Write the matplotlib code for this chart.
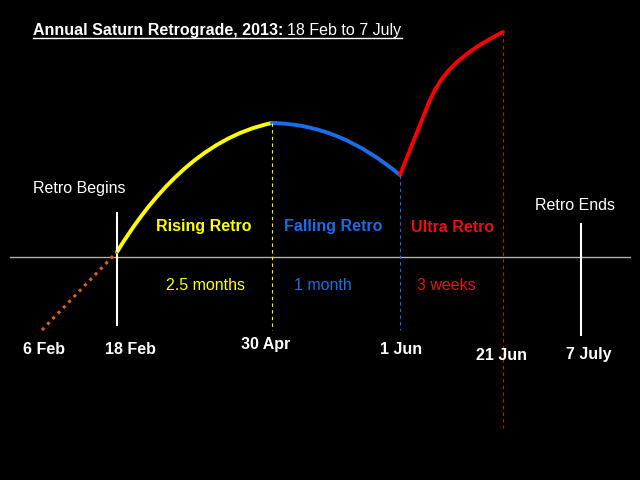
import matplotlib
matplotlib.use("Agg")
import matplotlib.pyplot as plt
from matplotlib.path import Path
from matplotlib.patches import PathPatch

plt.rcParams['font.family'] = ['Liberation Sans', 'DejaVu Sans']

# curve segments (picture units, y grows down),
# given as start / bezier handles / end
rise_x = [117, 150, 200, 272]
rise_y = [252, 198, 138, 123]
fall_x = [272, 320, 360, 400]
fall_y = [123, 124, 142, 175]
ultra_x = [400, 428, 440, 458, 503]
ultra_y = [175, 105, 75, 55, 32]
lead_x = [42, 117]
lead_y = [330, 252]

dates = ["6 Feb", "18 Feb", "30 Apr", "1 Jun", "21 Jun", "7 July"]
date_x = [44, 130, 266, 401, 501, 589]
date_y = [350, 350, 345, 350, 355, 355]

phases = ["Rising Retro", "Falling Retro", "Ultra Retro"]
phase_x = [204, 333, 453]
durations = ["2.5 months", "1 month", "3 weeks"]
dur_x = [206, 323, 446]

yellow = "#ffff00"
blue = "#1a6ce8"
red = "#ff0000"
red_txt = "#e81010"
fs = 11.5

fig = plt.figure(figsize=(6.4, 4.8), dpi=100, facecolor="black")
ax = fig.add_axes([0, 0, 1, 1])
ax.set_facecolor("black")
ax.set_xlim(0, 640)
ax.set_ylim(480, 0)
ax.axis("off")


def curve(xs, ys, color, codes):
    p = Path(list(zip(xs, ys)), codes)
    ax.add_patch(PathPatch(p, fill=False, edgecolor=color, lw=2.8,
                           capstyle="round", joinstyle="round"))


# baseline
ax.plot([10, 630], [257, 257], color="#b0b0b0", lw=1)

# start / end markers
ax.plot([117, 117], [213, 325], color="white", lw=1.5)
ax.plot([581, 581], [224, 335], color="white", lw=1.5)

# phase separators
ax.plot([272, 272], [123, 330], color=yellow, lw=0.8, ls=(0, (3, 3)))
ax.plot([400, 400], [175, 330], color=blue, lw=0.8, ls=(0, (3, 3)))
ax.plot([503, 503], [32, 428], color="#d01010", lw=0.8, ls=(0, (3, 3)))

# motion curve
ax.plot(lead_x, lead_y, color="#e06020", lw=2.2, ls=(0, (1, 1.5)))
c4 = [Path.MOVETO, Path.CURVE4, Path.CURVE4, Path.CURVE4]
curve(rise_x, rise_y, yellow, c4)
curve(fall_x, fall_y, blue, c4)
curve(ultra_x, ultra_y, red, [Path.MOVETO, Path.LINETO] + c4[1:])

for name, x, c in zip(phases, phase_x, [yellow, blue, red_txt]):
    ax.text(x, 227, name, color=c, fontsize=fs, fontweight="bold",
            ha="center", va="center")
for name, x, c in zip(durations, dur_x, [yellow, blue, red_txt]):
    ax.text(x, 285, name, color=c, fontsize=fs, ha="center", va="center")
for name, x, y in zip(dates, date_x, date_y):
    ax.text(x, y, name, color="white", fontsize=fs, fontweight="bold",
            ha="center", va="center")

ax.text(79, 189, "Retro Begins", color="white", fontsize=fs,
        ha="center", va="center")
ax.text(575, 206, "Retro Ends", color="white", fontsize=fs,
        ha="center", va="center")

# title, bold part then plain part, underlined together
t1 = ax.text(33, 30, "Annual Saturn Retrograde, 2013:", color="white",
             fontsize=fs, fontweight="bold", ha="left", va="center")
fig.canvas.draw()
r = fig.canvas.get_renderer()
bb = t1.get_window_extent(r).transformed(ax.transData.inverted())
t2 = ax.text(bb.x1 + 4, 30, "18 Feb to 7 July", color="white",
             fontsize=fs, ha="left", va="center")
bb2 = t2.get_window_extent(r).transformed(ax.transData.inverted())
ax.plot([33, bb2.x1], [38, 38], color="white", lw=1)

fig.savefig("out.png", dpi=100, facecolor="black")
